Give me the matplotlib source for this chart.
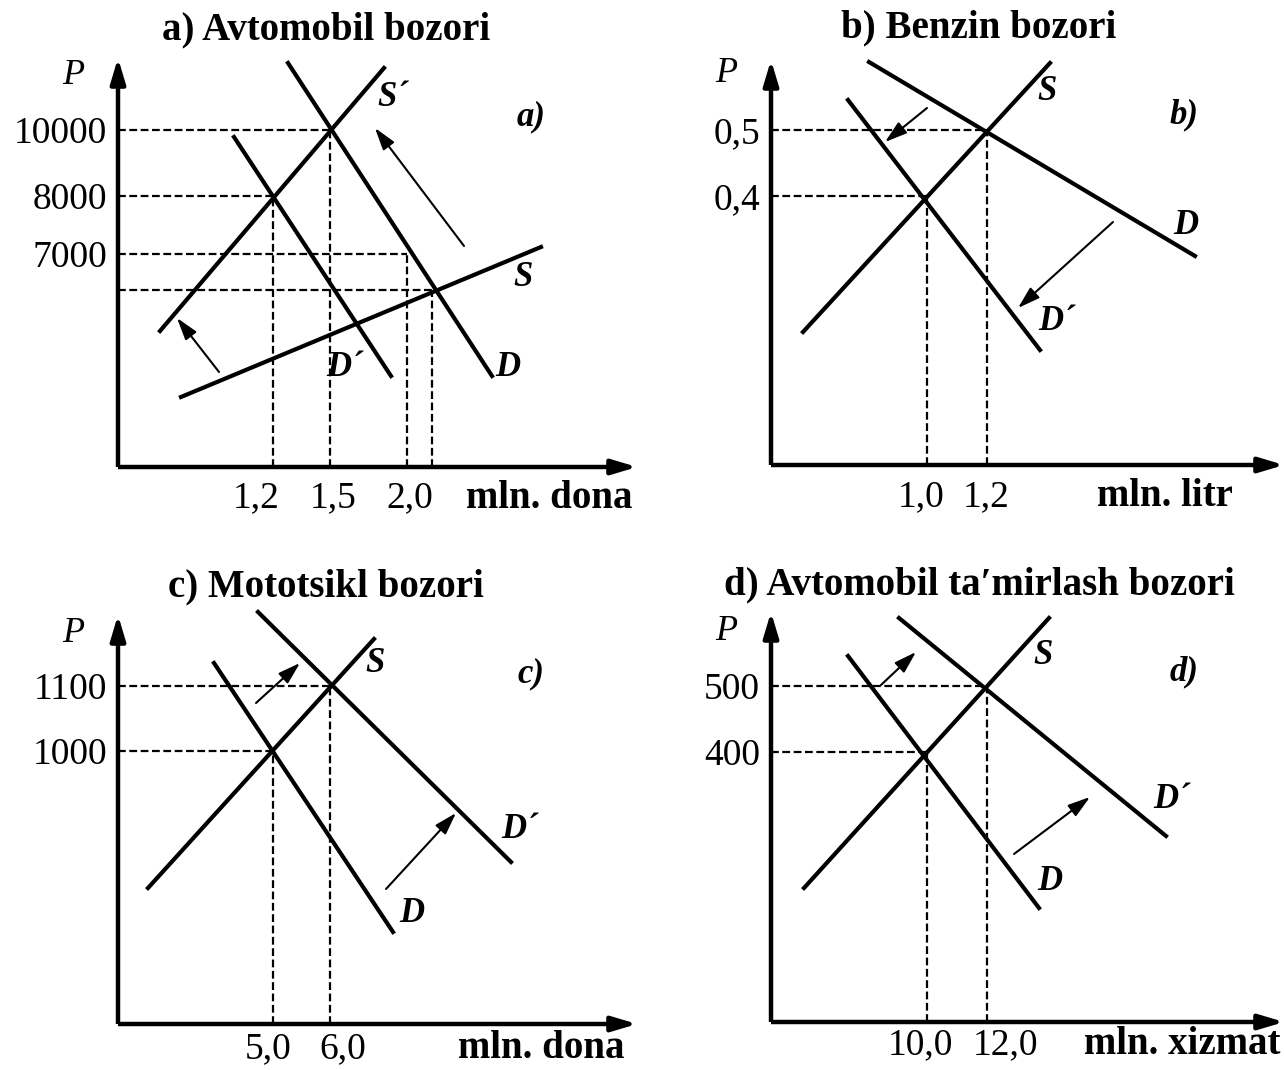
import matplotlib
matplotlib.use("Agg")
import matplotlib.pyplot as plt

plt.rcParams['font.family'] = ['Liberation Serif', 'DejaVu Serif']

# four supply/demand sketches, units are schematic (origin of each panel = 0,0)
titles = ["a) Avtomobil bozori", "b) Benzin bozori",
          "c) Mototsikl bozori", "d) Avtomobil ta\u2032mirlash bozori"]
units = ["mln. dona", "mln. litr", "mln. dona", "mln. xizmat"]
tags = ["a)", "b)", "c)", "d)"]

# a) car market
a_q = [212, 155, 289, 314]
a_p = [337, 271, 213, 177]
a_q_text = ["1,5", "1,2", "2,0", ""]
a_p_text = ["10000", "8000", "7000", ""]
a_names = ["S\u00b4", "D", "D\u00b4", "S"]
a_curve_x = [(42, 266), (170, 374), (116, 273), (63, 423)]
a_curve_y = [(136, 399), (404, 91), (330, 91), (70, 220)]
a_name_xy = [(275, 369), (390, 100), (227, 100), (405, 189)]
a_shift_from = [(346, 221), (101, 95)]
a_shift_to = [(257, 339), (59, 149)]

# b) petrol market
b_q = [216, 156]
b_p = [335, 269]
b_q_text = ["1,2", "1,0"]
b_p_text = ["0,5", "0,4"]
b_names = ["S", "D", "D\u00b4"]
b_curve_x = [(32, 279), (98, 424), (77, 269)]
b_curve_y = [(133, 402), (403, 209), (365, 115)]
b_name_xy = [(276, 373), (415, 240), (286, 143)]
b_shift_from = [(156, 357), (342, 243)]
b_shift_to = [(114, 323), (247, 157)]

# c) motorcycle market
c_q = [212, 155]
c_p = [338, 273]
c_q_text = ["6,0", "5,0"]
c_p_text = ["1100", "1000"]
c_names = ["S", "D", "D\u00b4"]
c_curve_x = [(30, 256), (96, 275), (140, 393)]
c_curve_y = [(136, 385), (361, 92), (412, 162)]
c_name_xy = [(257, 361), (294, 110), (402, 194)]
c_shift_from = [(138, 321), (268, 135)]
c_shift_to = [(182, 361), (338, 211)]

# d) car repair market
d_q = [216, 156]
d_p = [336, 270]
d_q_text = ["12,0", "10,0"]
d_p_text = ["500", "400"]
d_names = ["S", "D", "D\u00b4"]
d_curve_x = [(33, 278), (77, 268), (128, 395)]
d_curve_y = [(134, 404), (366, 114), (404, 186)]
d_name_xy = [(272, 367), (279, 140), (401, 222)]
d_shift_from = [(110, 337), (243, 168)]
d_shift_to = [(145, 370), (319, 225)]

# layout in image pixels: panel box, axis origin, axis lengths, unit label x
W, H = 1284, 1070
boxes = [(0, 0, 642, 535), (642, 0, 1284, 535), (0, 535, 642, 1070), (642, 535, 1284, 1070)]
origins = [(118, 467), (771, 465), (118, 1024), (771, 1022)]
axis_len = [(519, 409), (513, 405), (519, 409), (513, 410)]
unit_x = [514, 462, 506, 509]
label_drop = [31, 32, 25, 23]
# nudges of the quantity labels (rightmost equilibrium first, as in the lists)
q_text_nudge = [[3, -17, 3, 0], [-1, -6], [13, -5], [18, -7]]

fig = plt.figure(figsize=(W / 100, H / 100), dpi=100)


def draw_market(i, q, p, q_text, p_text, names, cx, cy, name_xy, sh_from, sh_to):
    x0, y0, x1, y1 = boxes[i]
    ox, oy = origins[i]
    ax = fig.add_axes([x0 / W, (H - y1) / H, (x1 - x0) / W, (y1 - y0) / H])
    ax.set_xlim(x0 - ox, x1 - ox)
    ax.set_ylim(oy - y1, oy - y0)
    ax.axis('off')

    xe, ye = axis_len[i]
    ax.plot([0, xe - 15], [0, 0], color='black', lw=3.2, solid_capstyle='butt', clip_on=False)
    ax.plot([0, 0], [0, ye - 15], color='black', lw=3.2, solid_capstyle='butt', clip_on=False)
    head = dict(arrowstyle='-|>,head_length=1.0,head_width=0.3', color='black',
                lw=3.2, mutation_scale=15, shrinkA=0, shrinkB=0)
    ax.annotate('', xy=(xe, 0), xytext=(xe - 20, 0), arrowprops=head, annotation_clip=False)
    ax.annotate('', xy=(0, ye), xytext=(0, ye - 20), arrowprops=head, annotation_clip=False)

    # dashed guides to the equilibria
    for qq, pp in zip(q, p):
        ax.plot([0, qq], [pp, pp], color='black', lw=1.6, ls=(0, (3.5, 1.6)), clip_on=False)
        ax.plot([qq, qq], [0, pp], color='black', lw=1.6, ls=(0, (3.5, 1.6)), clip_on=False)

    ly = -label_drop[i]
    for qq, t, dx in zip(q, q_text, q_text_nudge[i]):
        ax.text(qq + dx, ly, t, ha='center', va='center', fontsize=27)
    for pp, t in zip(p, p_text):
        ax.text(-11, pp, t, ha='right', va='center_baseline', fontsize=27)

    for n, xs, ys, pos in zip(names, cx, cy, name_xy):
        ax.plot(xs, ys, color='black', lw=3.0, clip_on=False)
        ax.text(pos[0], pos[1], n, ha='center', va='center', fontsize=25,
                fontweight='bold', fontstyle='italic')

    for a, b in zip(sh_from, sh_to):
        ax.annotate('', xy=b, xytext=a, annotation_clip=False,
                    arrowprops=dict(arrowstyle='-|>,head_length=0.9,head_width=0.28',
                                    color='black', lw=1.5, mutation_scale=15,
                                    shrinkA=0, shrinkB=0))

    ax.text(-45, 391, 'P', ha='center', va='center', fontsize=26, fontstyle='italic')
    ax.text(413, 350, tags[i], ha='center', va='center', fontsize=25,
            fontweight='bold', fontstyle='italic')
    ax.text(208, 437, titles[i], ha='center', va='center', fontsize=28, fontweight='bold')
    ax.text(unit_x[i], ly, units[i], ha='right', va='center', fontsize=28, fontweight='bold')


draw_market(0, a_q, a_p, a_q_text, a_p_text, a_names, a_curve_x, a_curve_y,
             a_name_xy, a_shift_from, a_shift_to)
draw_market(1, b_q, b_p, b_q_text, b_p_text, b_names, b_curve_x, b_curve_y,
             b_name_xy, b_shift_from, b_shift_to)
draw_market(2, c_q, c_p, c_q_text, c_p_text, c_names, c_curve_x, c_curve_y,
             c_name_xy, c_shift_from, c_shift_to)
draw_market(3, d_q, d_p, d_q_text, d_p_text, d_names, d_curve_x, d_curve_y,
             d_name_xy, d_shift_from, d_shift_to)

fig.savefig("out.png", dpi=100)
